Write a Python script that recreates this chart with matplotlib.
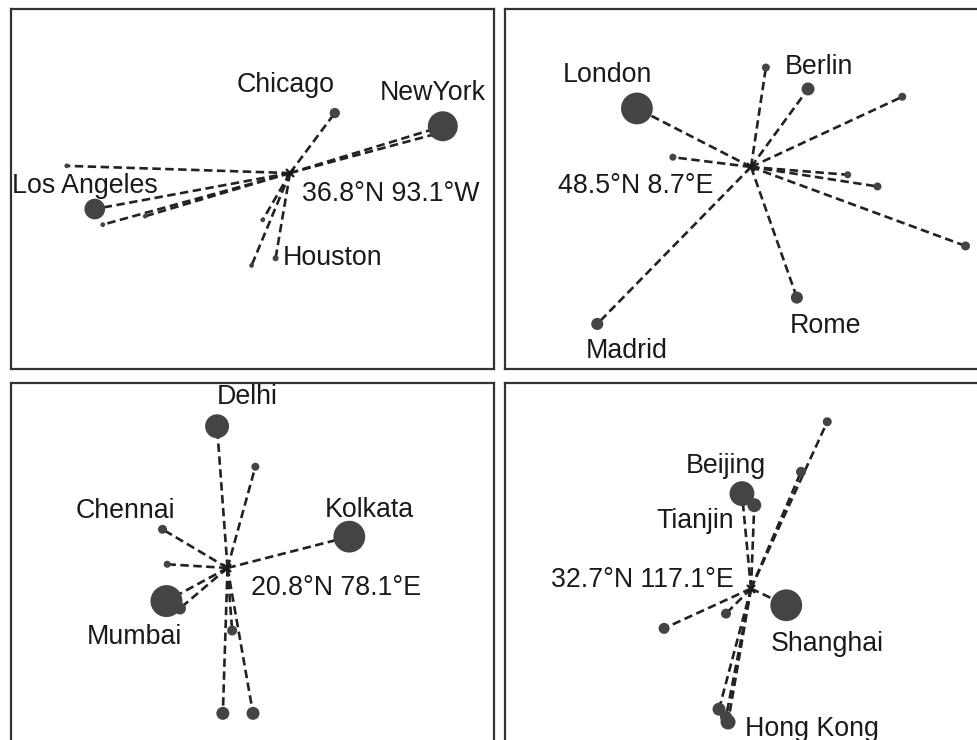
import numpy as np
import matplotlib
matplotlib.use('Agg')
import matplotlib.pyplot as plt

plt.rcParams['font.family'] = ['Liberation Sans', 'DejaVu Sans']

# ---- data (lon, lat in degrees; weight ~ relative size) ----
US_CITIES = ['New York', 'Los Angeles', 'Chicago', 'Houston', 'Phoenix',
             'Philadelphia', 'San Antonio', 'San Diego', 'Dallas', 'San Jose']
US_LON = [-74.0, -117.5, -87.5, -94.9, -111.2, -75.2, -97.9, -116.5, -96.5, -121.0]
US_LAT = [40.7, 33.8, 41.8, 29.7, 33.2, 40.0, 29.1, 32.5, 32.9, 37.4]
US_WEIGHT = [8.0, 3.8, 0.95, 0.32, 0.18, 0.25, 0.2, 0.2, 0.2, 0.2]
US_CENTER = (-93.1, 36.8)

EU_CITIES = ['London', 'Berlin', 'Madrid', 'Rome', 'Paris',
             'Hamburg', 'Warsaw', 'Vienna', 'Budapest', 'Bucharest']
EU_LON = [-0.5, 13.3, -3.7, 12.4, 2.4, 9.9, 20.9, 16.5, 18.9, 26.0]
EU_LAT = [51.5, 52.5, 40.45, 41.8, 49.0, 53.6, 52.1, 48.1, 47.5, 44.45]
EU_WEIGHT = [9.0, 1.5, 1.3, 1.3, 0.44, 0.57, 0.57, 0.44, 0.57, 0.72]
EU_CENTER = (8.7, 48.5)

IN_CITIES = ['Mumbai', 'Delhi', 'Kolkata', 'Chennai', 'Surat',
             'Pune', 'Hyderabad', 'Bangalore', 'Ahmedabad', 'Kanpur']
IN_LON = [72.84, 77.2, 88.6, 72.5, 72.9, 74.0, 78.5, 77.7, 80.3, 80.5]
IN_LAT = [19.0, 28.5, 22.5, 22.9, 21.0, 18.6, 17.4, 12.9, 12.9, 26.3]
IN_WEIGHT = [9.1, 5.1, 9.0, 0.72, 0.44, 1.3, 0.89, 1.5, 1.5, 0.57]
IN_CENTER = (78.1, 20.8)

CN_CITIES = ['Shanghai', 'Beijing', 'Tianjin', 'Hong Kong', 'Shenzhen',
             'Guangzhou', 'Wuhan', 'Chongqing', 'Shenyang', 'Harbin']
CN_LON = [121.4, 116.0, 117.5, 114.3, 114.05, 113.2, 114.05, 106.5, 123.2, 126.4]
CN_LAT = [31.4, 40.1, 39.2, 22.3, 22.7, 23.3, 30.75, 29.6, 41.8, 45.7]
CN_WEIGHT = [9.0, 5.5, 1.74, 2.0, 1.3, 1.5, 0.89, 1.08, 0.89, 0.72]
CN_CENTER = (117.1, 32.7)

# ---- layout (figure pixels) ----
FIG_W, FIG_H = 977, 740
PANELS = [
    # data, box (left, top, right, bottom) px, xlim, ylim, label offsets (px)
    dict(cities=US_CITIES, lon=US_LON, lat=US_LAT, w=US_WEIGHT, center=US_CENTER,
         box=(11, 9, 494, 369), xlim=(-127.97, -67.6), ylim=(20.47, 50.47),
         labels={'Chicago': (-49, 21, 'center'), 'New York': (-10, 26, 'center'),
                 'Los Angeles': (-10, 16, 'center'), 'Houston': (7, -7, 'left')},
         clabel=(12, -28, 'left')),
    dict(cities=EU_CITIES, lon=EU_LON, lat=EU_LAT, w=EU_WEIGHT, center=EU_CENTER,
         box=(505, 9, 982, 369), xlim=(-11.14, 27.33), ylim=(38.14, 56.6),
         labels={'London': (-29, 26, 'center'), 'Berlin': (11, 15, 'center'),
                 'Rome': (29, -35, 'center'), 'Madrid': (29, -34, 'center')},
         clabel=(-38, -26, 'right')),
    dict(cities=IN_CITIES, lon=IN_LON, lat=IN_LAT, w=IN_WEIGHT, center=IN_CENTER,
         box=(11, 383, 494, 745), xlim=(59.44, 101.07), ylim=(11.18, 30.85),
         labels={'Delhi': (30, 22, 'center'), 'Chennai': (-37, 11, 'center'),
                 'Kolkata': (20, 20, 'center'), 'Mumbai': (-32, -43, 'center')},
         clabel=(24, -27, 'left')),
    dict(cities=CN_CITIES, lon=CN_LON, lat=CN_LAT, w=CN_WEIGHT, center=CN_CENTER,
         box=(505, 383, 982, 745), xlim=(87.1, 145.27), ylim=(20.51, 48.72),
         labels={'Beijing': (-16, 21, 'center'), 'Tianjin': (-59, -23, 'center'),
                 'Shanghai': (41, -46, 'center'), 'Hong Kong': (17, -14, 'left')},
         clabel=(-17, 2, 'right')),
]

LABEL_TEXT = {'New York': 'NewYork'}
POINT_COLOR = '#444444'
LINE_COLOR = '#222222'
TEXT_COLOR = '#1a1a1a'
FONT_SIZE = 19.3


def coord_label(center):
    lon, lat = center
    ns = 'N' if lat >= 0 else 'S'
    ew = 'E' if lon >= 0 else 'W'
    return f'{abs(lat):.1f}\u00b0{ns} {abs(lon):.1f}\u00b0{ew}'


def draw_panel(fig, p):
    l, t, r, b = p['box']
    ax = fig.add_axes([l / FIG_W, 1 - b / FIG_H, (r - l) / FIG_W, (b - t) / FIG_H])
    ax.set_xlim(*p['xlim'])
    ax.set_ylim(*p['ylim'])
    ax.set_xticks([])
    ax.set_yticks([])
    for s in ax.spines.values():
        s.set_linewidth(1.6)
        s.set_color('#333333')

    cx, cy = p['center']
    lon = np.array(p['lon'])
    lat = np.array(p['lat'])
    w = np.array(p['w'])

    # dashed spokes from the weighted centre to each city
    for x, y in zip(lon, lat):
        ax.plot([cx, x], [cy, y], ls=(0, (3.2, 1.7)), lw=1.9, color=LINE_COLOR,
                zorder=2, dash_capstyle='butt')

    # city dots, area proportional to weight (radius px = 5.3*sqrt(w))
    r_px = 5.3 * np.sqrt(w)
    sizes = (2 * r_px * 0.72) ** 2
    ax.scatter(lon, lat, s=sizes, color=POINT_COLOR, edgecolors='none', zorder=3)
    ax.plot([cx], [cy], marker='x', ms=6, mew=1.6, color='#1a1a1a', zorder=4)

    for name, (dx, dy, ha) in p['labels'].items():
        i = p['cities'].index(name)
        ax.annotate(LABEL_TEXT.get(name, name), (lon[i], lat[i]),
                    xytext=(dx, dy), textcoords='offset pixels',
                    ha=ha, va='baseline', fontsize=FONT_SIZE, color=TEXT_COLOR,
                    zorder=5)

    dx, dy, ha = p['clabel']
    ax.annotate(coord_label(p['center']), (cx, cy), xytext=(dx, dy),
                textcoords='offset pixels', ha=ha, va='baseline',
                fontsize=FONT_SIZE, color=TEXT_COLOR, zorder=5)


def main():
    fig = plt.figure(figsize=(FIG_W / 100, FIG_H / 100), dpi=100)
    fig.patch.set_facecolor('white')
    for p in PANELS:
        draw_panel(fig, p)
    fig.savefig('out.png', dpi=100)


if __name__ == '__main__':
    main()
